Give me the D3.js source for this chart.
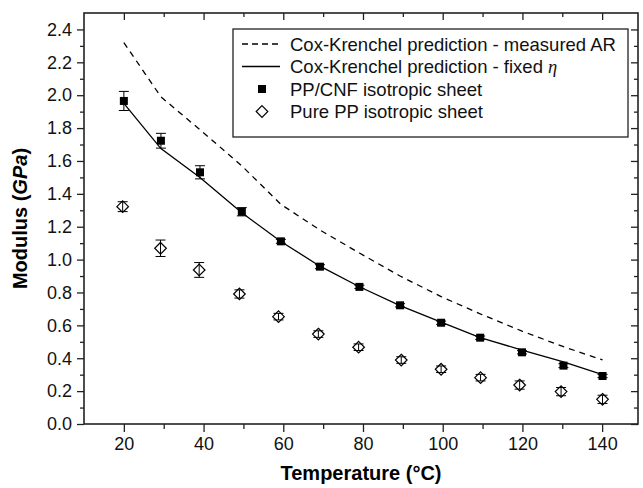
<!DOCTYPE html>
<html>
<head>
<meta charset="utf-8">
<script src="https://cdn.jsdelivr.net/npm/d3@7"></script>
<style>
  body { margin: 0; background: #fff; }
  svg { display: block; font-family: "Liberation Sans", Arial, sans-serif; }
</style>
</head>
<body>
<div id="chart"></div>
<script>
// PP/CNF isotropic sheet (filled squares)
const cnfTemp = [20, 29.3, 39.1, 49.6, 59.4, 69.2, 79.1, 89.3, 99.6, 109.4, 119.9, 130.3, 140.1];
const cnfMod  = [1.965, 1.723, 1.531, 1.291, 1.111, 0.957, 0.834, 0.722, 0.616, 0.525, 0.436, 0.355, 0.292];
const cnfErr  = [0.058, 0.045, 0.04, 0.025, 0.012, 0.012, 0.01, 0.01, 0.01, 0.01, 0.01, 0.012, 0.01];
// Pure PP isotropic sheet (open diamonds)
const ppTemp = [19.7, 29.2, 38.9, 49, 58.8, 68.8, 78.9, 89.6, 99.6, 109.5, 119.3, 129.7, 140.1];
const ppMod  = [1.322, 1.069, 0.937, 0.791, 0.653, 0.547, 0.467, 0.389, 0.333, 0.282, 0.237, 0.197, 0.150];
const ppErr  = [0.03, 0.05, 0.045, 0.025, 0.02, 0.02, 0.02, 0.02, 0.02, 0.02, 0.025, 0.025, 0.025];
// Cox-Krenchel predictions
const ckTemp    = [20, 29.3, 39.1, 49.6, 59.4, 69.2, 79.1, 89.3, 99.6, 109.4, 119.9, 130.3, 140.1];
const ckFixed   = [1.95, 1.675, 1.50, 1.285, 1.11, 0.96, 0.835, 0.72, 0.62, 0.525, 0.45, 0.378, 0.30];
const ckMeasured = [2.32, 1.99, 1.79, 1.57, 1.336, 1.18, 1.04, 0.90, 0.775, 0.67, 0.565, 0.47, 0.39];

const xTicks = [20, 40, 60, 80, 100, 120, 140];
const xMinor = [30, 50, 70, 90, 110, 130];
const yTicks = [0, 0.2, 0.4, 0.6, 0.8, 1.0, 1.2, 1.4, 1.6, 1.8, 2.0, 2.2, 2.4];
const yMinor = [0.1, 0.3, 0.5, 0.7, 0.9, 1.1, 1.3, 1.5, 1.7, 1.9, 2.1, 2.3];

const w = 643, h = 488;
const mLeft = 84, mRight = 638, mTop = 13, mBottom = 424;

const x = d3.scaleLinear().domain([10, 149]).range([mLeft, mRight]);
const y = d3.scaleLinear().domain([0, 2.5]).range([mBottom, mTop]);

const svg = d3.select("#chart").append("svg").attr("width", w).attr("height", h);

// axes
function styleAxis(g) {
  g.select(".domain").remove();
  g.selectAll("line").attr("stroke", "#222").attr("stroke-width", 1.3);
  g.selectAll("text").attr("fill", "#111").attr("font-size", 18)
    .attr("font-family", '"Liberation Sans", Arial, sans-serif');
}
svg.append("g").attr("transform", `translate(0,${mBottom})`)
  .call(d3.axisBottom(x).tickValues(xTicks).tickSize(8).tickPadding(5).tickFormat(d3.format("d")))
  .call(styleAxis);
svg.append("g").attr("transform", `translate(0,${mBottom})`)
  .call(d3.axisBottom(x).tickValues(xMinor).tickSize(5).tickFormat(""))
  .call(styleAxis);
svg.append("g").attr("transform", `translate(${mLeft},0)`)
  .call(d3.axisLeft(y).tickValues(yTicks).tickSize(7).tickPadding(5).tickFormat(d3.format(".1f")))
  .call(styleAxis);
svg.append("g").attr("transform", `translate(${mLeft},0)`)
  .call(d3.axisLeft(y).tickValues(yMinor).tickSize(4).tickFormat(""))
  .call(styleAxis);
// top and right (ticks inward)
svg.append("g").attr("transform", `translate(0,${mTop})`)
  .call(d3.axisBottom(x).tickValues(xTicks).tickSize(7).tickFormat(""))
  .call(styleAxis);
svg.append("g").attr("transform", `translate(0,${mTop})`)
  .call(d3.axisBottom(x).tickValues(xMinor).tickSize(4).tickFormat(""))
  .call(styleAxis);
svg.append("g").attr("transform", `translate(${mRight},0)`)
  .call(d3.axisRight(y).tickValues(yTicks).tickSize(-7).tickFormat(""))
  .call(styleAxis);
svg.append("g").attr("transform", `translate(${mRight},0)`)
  .call(d3.axisRight(y).tickValues(yMinor).tickSize(-4).tickFormat(""))
  .call(styleAxis);

// frame
svg.append("rect").attr("x", mLeft).attr("y", mTop)
  .attr("width", mRight - mLeft).attr("height", mBottom - mTop)
  .attr("fill", "none").attr("stroke", "#222").attr("stroke-width", 1.6);

// prediction lines
const line = d3.line().x(d => x(d[0])).y(d => y(d[1]));
svg.append("path").datum(ckTemp.map((t, i) => [t, ckMeasured[i]]))
  .attr("d", line).attr("fill", "none").attr("stroke", "#000")
  .attr("stroke-width", 1.3).attr("stroke-dasharray", "6,5");
svg.append("path").datum(ckTemp.map((t, i) => [t, ckFixed[i]]))
  .attr("d", line).attr("fill", "none").attr("stroke", "#000").attr("stroke-width", 1.3);

// error bars
function errorBars(temps, mods, errs) {
  const g = svg.append("g").attr("stroke", "#000").attr("stroke-width", 1);
  temps.forEach((t, i) => {
    const cx = x(t), y0 = y(mods[i] - errs[i]), y1 = y(mods[i] + errs[i]);
    g.append("line").attr("x1", cx).attr("x2", cx).attr("y1", y0).attr("y2", y1);
    g.append("line").attr("x1", cx - 5).attr("x2", cx + 5).attr("y1", y0).attr("y2", y0);
    g.append("line").attr("x1", cx - 5).attr("x2", cx + 5).attr("y1", y1).attr("y2", y1);
  });
}
errorBars(ppTemp, ppMod, ppErr);
errorBars(cnfTemp, cnfMod, cnfErr);

const sq = d3.symbol().type(d3.symbolSquare).size(64);
const dia = "M0,-5.8L5.8,0L0,5.8L-5.8,0Z";

svg.append("g").selectAll("path").data(ppTemp).enter().append("path")
  .attr("transform", (d, i) => `translate(${x(d)},${y(ppMod[i])})`)
  .attr("d", dia).attr("fill", "none").attr("stroke", "#000").attr("stroke-width", 1.2);
svg.append("g").selectAll("path").data(cnfTemp).enter().append("path")
  .attr("transform", (d, i) => `translate(${x(d)},${y(cnfMod[i])})`)
  .attr("d", sq).attr("fill", "#000");

// legend
const lg = svg.append("g");
lg.append("rect").attr("x", 233).attr("y", 29).attr("width", 395).attr("height", 108)
  .attr("fill", "#fff").attr("stroke", "#222").attr("stroke-width", 1.3);
const rows = [44, 66.5, 89, 111.5];
lg.append("line").attr("x1", 242).attr("x2", 280).attr("y1", rows[0]).attr("y2", rows[0])
  .attr("stroke", "#000").attr("stroke-width", 1.3).attr("stroke-dasharray", "6,4");
lg.append("line").attr("x1", 242).attr("x2", 280).attr("y1", rows[1]).attr("y2", rows[1])
  .attr("stroke", "#000").attr("stroke-width", 1.3);
lg.append("path").attr("transform", `translate(262,${rows[2]})`).attr("d", sq).attr("fill", "#000");
lg.append("path").attr("transform", `translate(262,${rows[3]})`).attr("d", dia)
  .attr("fill", "none").attr("stroke", "#000").attr("stroke-width", 1.2);

const labels = ["Cox-Krenchel prediction - measured AR", "Cox-Krenchel prediction - fixed ",
  "PP/CNF isotropic sheet", "Pure PP isotropic sheet"];
labels.forEach((s, i) => {
  const t = lg.append("text").attr("x", 290).attr("y", rows[i]).attr("dy", "0.36em")
    .attr("font-size", 18.5).attr("fill", "#111").text(s);
  if (i === 1) {
    t.append("tspan").attr("font-family", '"Liberation Serif", "DejaVu Serif", serif')
      .attr("font-style", "italic").text("\u03b7");
  }
});

// axis titles
svg.append("text").attr("x", (mLeft + mRight) / 2).attr("y", 480)
  .attr("text-anchor", "middle").attr("font-size", 20).attr("font-weight", "bold")
  .text("Temperature (\u00b0C)");
const yt = svg.append("text")
  .attr("transform", `translate(27,${(mTop + mBottom) / 2}) rotate(-90)`)
  .attr("text-anchor", "middle").attr("font-size", 20).attr("font-weight", "bold");
yt.append("tspan").text("Modulus (");
yt.append("tspan").attr("font-style", "italic").text("GPa");
yt.append("tspan").text(")");
</script>
</body>
</html>
